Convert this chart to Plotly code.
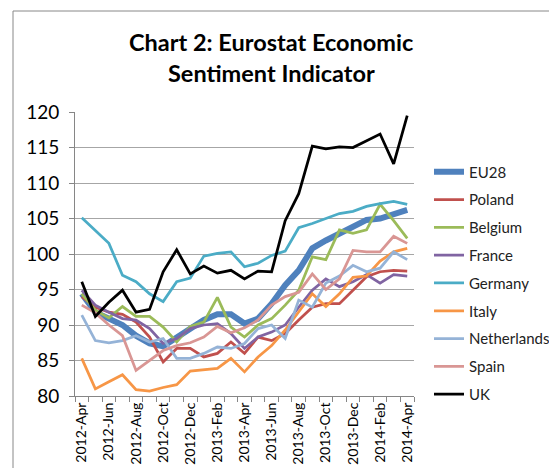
import plotly.graph_objects as go

months = ["2012-Apr", "2012-May", "2012-Jun", "2012-Jul", "2012-Aug", "2012-Sep",
          "2012-Oct", "2012-Nov", "2012-Dec", "2013-Jan", "2013-Feb", "2013-Mar",
          "2013-Apr", "2013-May", "2013-Jun", "2013-Jul", "2013-Aug", "2013-Sep",
          "2013-Oct", "2013-Nov", "2013-Dec", "2014-Jan", "2014-Feb", "2014-Mar",
          "2014-Apr"]
tick_labels = [m if i % 2 == 0 else "" for i, m in enumerate(months)]

eu28 = [94.4, 91.8, 90.9, 90.0, 88.5, 87.4, 87.0, 88.3, 89.4, 90.7, 91.5, 91.5,
        90.2, 90.9, 93.0, 95.6, 97.7, 100.8, 101.9, 102.9, 104.0, 104.8, 105.0, 105.5, 106.2]
poland = [94.0, 92.5, 91.8, 91.5, 90.4, 88.3, 84.8, 86.7, 86.7, 85.5, 86.0, 87.6,
          86.0, 88.3, 87.8, 88.8, 90.7, 92.5, 93.0, 93.0, 94.9, 96.8, 97.5, 97.7, 97.6]
belgium = [94.4, 92.1, 91.0, 92.6, 91.2, 91.2, 89.7, 87.6, 89.8, 90.4, 93.9, 89.7,
           88.3, 90.0, 90.9, 92.8, 94.9, 99.6, 99.2, 103.4, 102.9, 103.4, 107.0, 104.7, 102.2]
france = [94.9, 92.8, 91.8, 90.9, 90.7, 89.5, 87.4, 88.1, 89.5, 90.0, 90.2, 88.8,
          86.7, 88.3, 89.0, 90.0, 92.5, 94.9, 96.5, 95.4, 96.1, 97.1, 95.9, 97.1, 96.9]
germany = [105.1, 103.3, 101.5, 97.0, 96.1, 94.4, 93.3, 96.1, 96.6, 99.7, 100.1, 100.3,
           98.2, 98.7, 99.8, 100.4, 103.7, 104.3, 105.0, 105.7, 106.0, 106.7, 107.1, 107.4, 107.0]
italy = [85.3, 81.0, 82.0, 83.0, 80.9, 80.7, 81.2, 81.6, 83.5, 83.7, 83.9, 85.3,
         83.4, 85.5, 87.1, 89.3, 91.8, 94.4, 92.6, 94.4, 96.7, 96.9, 99.0, 100.3, 100.8]
netherlands = [91.4, 87.8, 87.5, 87.8, 88.5, 87.6, 88.1, 85.3, 85.3, 86.0, 86.9, 86.7,
               87.4, 89.5, 90.0, 88.1, 93.5, 92.5, 95.9, 96.9, 98.4, 97.5, 98.0, 100.3, 99.2]
spain = [92.8, 91.7, 90.0, 88.5, 83.6, 85.0, 86.4, 87.1, 87.5, 88.3, 89.8, 88.9,
         89.6, 90.7, 92.8, 94.0, 94.6, 97.2, 95.0, 96.5, 100.5, 100.3, 100.3, 102.5, 101.5]
uk = [96.1, 91.2, 93.2, 94.9, 91.8, 92.2, 97.5, 100.6, 97.2, 98.3, 97.3, 97.7,
      96.5, 97.6, 97.5, 104.7, 108.5, 115.2, 114.8, 115.1, 115.0, 116.0, 116.9, 112.7, 119.5]

series = [
    ("EU28", eu28, "#4F81BD", 6),
    ("Poland", poland, "#C0504D", 2.75),
    ("Belgium", belgium, "#9BBB59", 2.75),
    ("France", france, "#8064A2", 2.75),
    ("Germany", germany, "#4BACC6", 2.75),
    ("Italy", italy, "#F79646", 2.75),
    ("Netherlands", netherlands, "#95B3D7", 2.75),
    ("Spain", spain, "#D99694", 2.75),
    ("UK", uk, "#000000", 2.75),
]

fig = go.Figure()
for name, vals, color, w in series:
    fig.add_trace(go.Scatter(x=months, y=vals, name=name, mode="lines",
                             legendgroup=name,
                             line=dict(color=color, width=w)))

# page body has an 8px margin, so the figure is 549x460 inside the 557x468 window
OFF = 8
W, H = 557 - OFF, 468 - OFF
L, R, T, B = 67, 143, 104, 72
pw = W - L - R
ph = H - T - B

def px_x(p):  # window pixel -> paper x
    return (p - OFF - L) / pw

def px_y(p):  # window pixel -> paper y
    return (H - B - (p - OFF)) / ph

fig.update_layout(
    width=W, height=H,
    margin=dict(l=L, r=R, t=T, b=B, autoexpand=False),
    paper_bgcolor="white", plot_bgcolor="white",
    font=dict(family="Lato", color="#000000"),
    showlegend=True,
    legend=dict(x=px_x(429), y=px_y(155.5), xanchor="left", yanchor="top",
                font=dict(size=15, color="#222222"),
                tracegroupgap=5.3, bgcolor="rgba(0,0,0,0)"),
    xaxis=dict(type="category", tickmode="array", tickvals=months, ticktext=tick_labels,
               tickson="boundaries", ticks="outside", ticklen=5, tickcolor="#868686",
               tickangle=-90, tickfont=dict(size=14, color="#000000"),
               showgrid=False, showline=True, linecolor="#868686", linewidth=1,
               range=[-0.5, 24.5], automargin=False),
    yaxis=dict(range=[80, 120], dtick=5, tick0=80, ticks="outside", ticklen=5,
               tickcolor="#868686", tickfont=dict(size=19, color="#000000"),
               ticklabelstandoff=6, automargin=False,
               showgrid=True, gridcolor="#A6A6A6", gridwidth=1,
               showline=True, linecolor="#868686", linewidth=1, zeroline=False),
    shapes=[dict(type="rect", xref="paper", yref="paper",
                 x0=px_x(13), y0=px_y(H + 40), x1=px_x(W + 40), y1=px_y(11),
                 line=dict(color="#888888", width=1), fillcolor="rgba(0,0,0,0)",
                 layer="below")],
    annotations=[
        dict(text="<b>Chart 2: Eurostat Economic</b>", xref="paper", yref="paper",
             x=px_x(271), y=px_y(42), xanchor="center", yanchor="middle",
             showarrow=False, font=dict(size=23.5, color="#000000")),
        dict(text="<b>Sentiment Indicator</b>", xref="paper", yref="paper",
             x=px_x(271), y=px_y(73), xanchor="center", yanchor="middle",
             showarrow=False, font=dict(size=23.5, color="#000000")),
    ],
)

fig.write_html("out.html")
